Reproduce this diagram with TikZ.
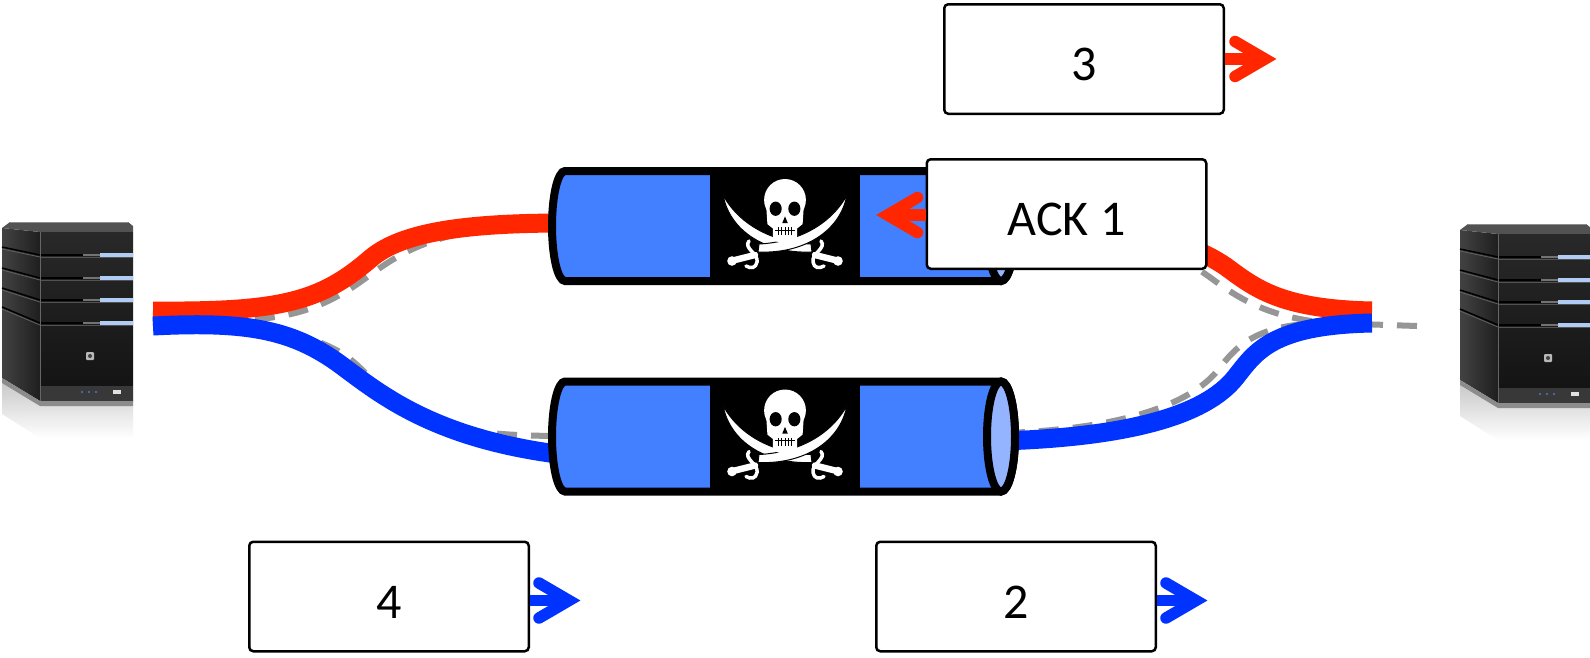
\documentclass[tikz,border=0pt]{standalone}
\usepackage{fontspec}
\setmainfont{Carlito}
\usetikzlibrary{calc}

\definecolor{cablered}{RGB}{255,38,0}
\definecolor{cableblue}{RGB}{0,51,255}
\definecolor{routegrey}{RGB}{150,150,150}
\definecolor{tunnelblue}{RGB}{67,128,255}
\definecolor{tunnelface}{RGB}{148,180,255}
\definecolor{lightstrip}{RGB}{176,204,245}
\definecolor{ledblue}{RGB}{70,120,210}

\tikzset{
  msgbox/.style={draw=black, line width=2.5pt, rounded corners=4pt, fill=white,
    minimum width=279.5pt, minimum height=109.5pt, inner sep=0pt,
    font=\fontsize{50pt}{60pt}\selectfont, text height=43pt, text depth=0pt},
  cable/.style={line width=19pt},
  route/.style={draw=routegrey, line width=6pt, dash pattern=on 20pt off 14pt},
  shaft/.style={line width=11.5pt},
  chevron/.style={line width=11.5pt, line cap=round, line join=miter},
  % tower server, origin at its top left corner
  server/.pic={
    \shade[top color=black!22, bottom color=white]
      (2,380) -- (40,404) -- (133,404) -- (133,438) -- (40,438) -- (2,414) -- cycle;
    \shade[left color=black!74, right color=black!88]
      (2,228) -- (40,232) -- (40,401) -- (2,378) -- cycle;
    \foreach \ya/\yb in {247/255, 268/278, 288/300, 307/323} {
      \draw[black, line width=1.5pt] (2,\ya) -- (40,\yb);
      \draw[black!62, line width=0.8pt] (2,\ya+2) -- (40,\yb+2);
    }
    \fill[black!68] (2,228) -- (10,222) -- (128,222) -- (133,226) -- (133,232) -- (40,232) -- cycle;
    \draw[black!45, line width=0.8pt] (10,222.5) -- (128,222.5);
    \shade[top color=black!84, bottom color=black!93] (40,232) rectangle (133,401);
    \foreach \y in {255,278,300,323} {
      \draw[black, line width=2pt] (40,\y) -- (133,\y);
      \draw[black!68, line width=0.8pt] (40,\y+2.4) -- (133,\y+2.4);
      \fill[black!55] (83,\y-1.2) rectangle (100,\y+1.2);
      \fill[lightstrip] (100,\y-1.6) rectangle (133,\y+1.6);
    }
    \fill[black!28, rounded corners=1pt] (86,352) rectangle (94,360);
    \fill[black!75] (90,356) circle (2);
    \fill[black!78] (40,386) rectangle (133,401);
    \foreach \x in {82,89,96} \fill[ledblue] (\x,392) circle (1.1);
    \fill[black!12] (113,390) rectangle (121,394);
    \fill[black!45] (2,378) -- (40,401) -- (133,401) -- (133,406) -- (40,406) -- (2,383) -- cycle;
    \draw[black!60, line width=0.6pt] (40,232) -- (40,401);
  },
  % skull and crossed sabres, origin at the centre of the black band
  jolly/.pic={
    \foreach \s in {1,-1} {
      \begin{scope}[xscale=\s]
        \fill[white, draw=black, line width=1pt]
          (-62,-31) .. controls (-46,-2) and (-14,16) .. (26,18)
          -- (27,26) .. controls (-18,28) and (-55,6) .. cycle;
        \draw[white, line width=6.5pt, line cap=round] (30,29) -- (50,34);
        \fill[white] (53,35) circle (4.8);
        \draw[white, line width=3.5pt, line cap=round]
          (36,15) .. controls (42,22) and (26,28) .. (28,36)
          .. controls (29,42) and (34,43) .. (39,40);
      \end{scope}
    }
    \begin{scope}[shift={(0,-14)}, scale=1.1, shift={(0,14)}]
      \fill[white] (0,-25) circle (19);
      \fill[white] (-17,-18) -- (-16,-3) -- (-11,1) -- (-11,11)
        .. controls (-7,15) and (7,15) .. (11,11) -- (11,1) -- (16,-3) -- (17,-18) -- cycle;
      \fill[black] (-8.5,-17) ellipse [x radius=5.5, y radius=6.5];
      \fill[black] (8.5,-17) ellipse [x radius=5.5, y radius=6.5];
      \fill[black] (0,-10) -- (-2.5,-4) -- (2.5,-4) -- cycle;
      \draw[black, line width=0.8pt] (-9,2.5) -- (9,2.5);
      \foreach \t in {-6,-3,0,3,6} \draw[black, line width=0.8pt] (\t,0) -- (\t,7);
    \end{scope}
  },
  % tunnel tube, origin at the height of its axis
  tunnel/.pic={
    \fill[tunnelblue] (565,-55) -- (1001,-55)
      arc[start angle=-90, end angle=90, x radius=14, y radius=55]
      -- (565,55) arc[start angle=90, end angle=270, x radius=13, y radius=55] -- cycle;
    \fill[black] (710,-55) rectangle (860,55);
    \draw[line width=8pt] (565,-55) -- (1001,-55)
      arc[start angle=-90, end angle=90, x radius=14, y radius=55]
      -- (565,55) arc[start angle=90, end angle=270, x radius=13, y radius=55] -- cycle;
    \draw[line width=8pt, fill=tunnelface] (1001,0) ellipse [x radius=14, y radius=55];
    \pic at (785,0) {jolly};
  },
}

\begin{document}
\begin{tikzpicture}[x=1pt, y=-1pt]
  \useasboundingbox (0,0) rectangle (1590,657);
  \fill[white] (0,0) rectangle (1590,657);

  % hosts
  \pic at (0,0) {server};
  \pic at (1458,2) {server};

  % path ends
  \coordinate (gL) at (153,323);
  \coordinate (gM) at (1329,323);
  \coordinate (gR) at (1417,326);

  % underlying routes
  \draw[route] (gL) .. controls (270,322) and (300,318) .. (345,292)
    .. controls (375,274) and (395,250) .. (450,236)
    .. controls (490,228) and (530,226) .. (565,226);
  \draw[route] (gL) .. controls (280,324) and (310,336) .. (340,352)
    .. controls (370,370) and (390,410) .. (440,425)
    .. controls (480,434) and (520,436) .. (565,436);
  \draw[route] (1005,231) .. controls (1140,232) and (1180,255) .. (1215,281)
    .. controls (1240,299) and (1270,318) .. (gM);
  \draw[route] (1005,433) .. controls (1120,429) and (1190,405) .. (1218,370)
    .. controls (1236,347) and (1255,323) .. (gM);
  \draw[route] (gM) -- (gR);

  % cables
  \draw[cable, cablered] (153,311) .. controls (280,312) and (320,302) .. (370,259)
    .. controls (400,233) and (460,223) .. (565,223);
  \draw[cable, cablered] (1005,226) .. controls (1120,226) and (1180,236) .. (1225,266)
    .. controls (1255,288) and (1280,309) .. (1372,311);
  \draw[cable, cableblue] (153,326) .. controls (250,321) and (295,330) .. (345,368)
    .. controls (385,398) and (440,440) .. (565,455);
  \draw[cable, cableblue] (1001,441) .. controls (1130,437) and (1205,415) .. (1235,378)
    .. controls (1255,353) and (1270,325) .. (1372,323);

  % tunnels
  \pic at (0,226) {tunnel};
  \pic at (0,436.5) {tunnel};

  % segments
  \node[msgbox] (b3) at (1084,59) {3};
  \node[msgbox] (ack) at (1066.5,214) {ACK 1};
  \node[msgbox] (b4) at (389,596.5) {4};
  \node[msgbox] (b2) at (1016,596.5) {2};

  % direction marks
  \coordinate (t3) at ($(b3.east)+(40,0)$);
  \draw[cablered, shaft] (b3.east) -- (t3);
  \draw[cablered, chevron] ($(t3)+(-30,-17.5)$) -- (t3) -- ($(t3)+(-30,17.5)$);

  \coordinate (sA) at ($(ack.west)+(0,1)$);
  \coordinate (tA) at ($(ack.west)+(-38,1)$);
  \draw[cablered, shaft] (sA) -- (tA);
  \draw[cablered, chevron] ($(tA)+(30,-17.5)$) -- (tA) -- ($(tA)+(30,17.5)$);

  \coordinate (s4) at ($(b4.east)+(0,4)$);
  \coordinate (t4) at ($(b4.east)+(39,4)$);
  \draw[cableblue, shaft] (s4) -- (t4);
  \draw[cableblue, chevron] ($(t4)+(-30,-17.5)$) -- (t4) -- ($(t4)+(-30,17.5)$);

  \coordinate (s2) at ($(b2.east)+(0,4)$);
  \coordinate (t2) at ($(b2.east)+(39,4)$);
  \draw[cableblue, shaft] (s2) -- (t2);
  \draw[cableblue, chevron] ($(t2)+(-30,-17.5)$) -- (t2) -- ($(t2)+(-30,17.5)$);
\end{tikzpicture}
\end{document}
